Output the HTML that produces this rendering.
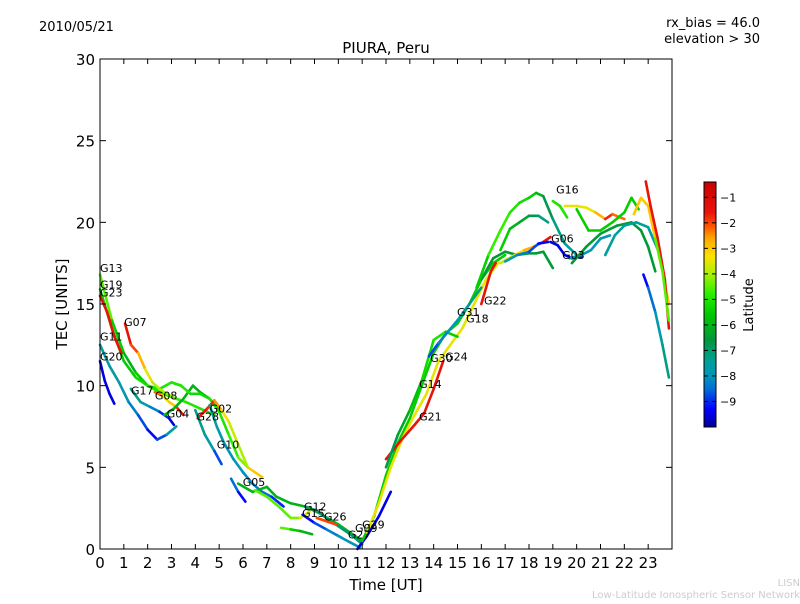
<!DOCTYPE html>
<html><head><meta charset="utf-8"><style>
body{margin:0;background:#fff;font-family:"DejaVu Sans","Liberation Sans",sans-serif}
svg text{font-family:"DejaVu Sans","Liberation Sans",sans-serif}
</style></head><body>
<svg id="c" width="800" height="600" xmlns="http://www.w3.org/2000/svg">
<defs><linearGradient id="jet" x1="0" y1="1" x2="0" y2="0"></linearGradient></defs>
<text x="39" y="31" font-size="13">2010/05/21</text>
<text x="760" y="27" font-size="13" text-anchor="end">rx_bias = 46.0</text>
<text x="760" y="43" font-size="13" text-anchor="end">elevation &gt; 30</text>
<text x="386" y="53" font-size="15" text-anchor="middle">PIURA, Peru</text>
<text x="386" y="590" font-size="15" text-anchor="middle">Time [UT]</text>
<text transform="translate(67,304) rotate(-90)" font-size="15" text-anchor="middle">TEC [UNITS]</text>
<text x="800" y="586" font-size="10" fill="#ccc" text-anchor="end">LISN</text>
<text x="800" y="598" font-size="10" fill="#ccc" text-anchor="end">Low-Latitude Ionospheric Sensor Network</text>
<g id="marks"></g>
<g id="axes"></g>
<rect x="704" y="182" width="12" height="245" fill="url(#jet)" stroke="#000" stroke-width="1"/>
<g id="cbar"></g>
<text transform="translate(753,305) rotate(-90)" font-size="13" text-anchor="middle">Latitude</text>
</svg>
<script>
const xTicks=[0,1,2,3,4,5,6,7,8,9,10,11,12,13,14,15,16,17,18,19,20,21,22,23];
const yTicks=[0,5,10,15,20,25,30];
const cbTicks=[-1,-2,-3,-4,-5,-6,-7,-8,-9];
const trackTimes=[
[0,0.5,1,1.5,2,2.5,3],[0,0.5,1,1.5,2,2.5,3,3.4],[0,0.3,0.6,0.9],
[1.05,1.3,1.6,1.9,2.2,2.5,2.8,3.2,3.6,4.2,4.8],[0,0.4,0.8,1.2,1.6,2,2.4,2.8,3.2],[0,0.2,0.4,0.6],
[1.3,1.7,2.1,2.5,2.9,3.1],[2.3,2.6,2.9,3.2,3.5],[2.7,3.1,3.5,3.9,4.2,4.6,5.0],
[3,3.4,3.8,4.2,4.6,5,5.4,5.8,6.2,6.8],[4.1,4.5,4.8,5.1,5.4,5.8,6.2],[4.6,4.9,5.2,5.6,6,6.4,6.8,7.2,7.7],
[4.0,4.4,4.8,5.1],[5.5,5.8,6.1],[5.8,6.4,7,7.4,8,8.6,9.2,10,10.5,11],
[6.5,7,7.5,8,8.4,8.8],[8.6,9,9.4,10,10.6,11],[7.6,8,8.4,8.9],
[8.5,9,9.5,10,10.5,10.9],[9.1,9.5,9.9],[10.8,11.2,11.7,12.2],
[11,11.5,12,12.5,13,13.5,14,14.5,15,15.5,16,16.5,17],[11.2,11.7,12.2,12.7,13.2,13.7,14.2,14.7,15.2,15.7,16.2,16.7],[12,12.6,13.2,13.6,14,14.4],
[12,12.5,13,13.5,14,14.5,15],[13.8,14.2,14.6,15,15.5,16],[16,16.2,16.4,16.6],
[16,16.5,17,17.5,18,18.3,18.6,19],[15.8,16.3,16.8,17.2,17.6,18,18.3,18.6,19,19.5,20],[16.8,17.2,17.6,18,18.4,18.8],
[16.8,17.4,17.8,18.2,18.6,18.9],[17,17.5,18,18.4,18.8],[18.9,19.2,19.5,19.8,20.2],
[19.7,20.2,20.6,21,21.4],[19,19.3,19.6],[19.5,20,20.4,20.8,21.2,21.5,22],
[20,20.5,21,21.5,22,22.3,22.6],[19.8,20.4,21,21.7,22.3,22.7,23,23.3],[21.2,21.6,22,22.5,23,23.5],
[22.4,22.7,23,23.3,23.6,23.87],[22.9,23.1,23.4,23.7,23.87],[22.8,23,23.3,23.6,23.87],[23.3,23.6,23.87]];
const trackTec=[
[16.8,14,12,10.8,10,9.6,9.3],[15.9,13.5,11.5,10.5,10,9.8,10.2,10],[15.5,14.5,13,12],
[13.8,12.5,12,11,10.2,9.8,9.5,9.2,9,8.6,8.2],[12.5,11.2,10.2,9,8.2,7.3,6.7,7,7.5],[11.5,10.3,9.5,8.9],
[9.8,9,8.7,8.4,8,7.6],[9.6,9.4,9,8.7,8.2],[8.2,8.6,9.2,10,9.6,9.2,8.5],
[10.2,10,9.5,9.5,9.2,8.4,7,5.6,5,4.4],[8,8.6,9.1,8.5,7.8,6.4,5],[8.8,7.5,6.5,5.5,4.7,4,3.5,3.2,2.6],
[8.5,7,6,5.2],[4.3,3.5,2.9],[4,3.5,3.8,3.2,2.8,2.6,2.2,1.5,1,0.5],
[3.6,3.2,2.6,1.9,1.9,2.3],[2.6,2.4,2,1.4,0.8,0.3],[1.3,1.2,1.1,0.9],
[2.1,1.6,1.2,0.8,0.4,0.1],[1.9,1.7,1.5],[0,0.8,2,3.5],
[0.5,2,4.5,6.5,8,10,12,13.2,13.8,15,16.5,17.5,18],[1,2.8,5,6.8,8.2,9.5,11.5,12.5,13.5,15,16.5,17.5],[5.5,6.6,7.6,8.3,9.8,11.5],
[5,7,8.5,10.3,12.8,13.3,13],[11.8,12.6,13.3,14,15,16],[15,16,17,17.5],
[16.5,17.8,18.2,18,18.1,18.1,18.2,17.2],[16,18,19.5,20.6,21.2,21.5,21.8,21.6,20.2,18.7,18],[18.3,19.6,20,20.4,20.4,20],
[17.5,18,18.3,18.5,18.8,19.1],[17.6,18,18.2,18.7,18.8],[18.8,18.6,18,17.8,17.9],
[17.8,18,18.3,19,19.2],[21.3,21,20.3],[21,21,20.9,20.6,20.2,20.5,20.2],
[20.8,19.5,19.5,20,20.6,21.5,20.8],[17.5,18.5,19.3,19.8,20,19.5,18.5,17],[18,19.2,19.8,20,19.7,18],
[20.5,21.5,21,19,17,15],[22.5,21,19,16.5,13.5],[16.8,16,14.5,12.5,10.5],[19,17,14]];
const trackLat=[
[-4,-5,-6,-6,-5,-5,-5],[-5.5,-5.5,-5.5,-5.5,-5,-5,-5,-5],[-1.5,-1.5,-1.5,-1.5],
[-1.5,-1.5,-2.5,-3,-4,-4,-4,-4.5,-5,-5,-5],[-7.5,-7.5,-7.8,-8,-8.5,-9,-9.5,-8,-7.5],[-9.5,-9.5,-9.5,-9.5],
[-7,-7.5,-8,-8.5,-9.5,-9.5],[-1.5,-3,-4,-2,-1.5],[-6,-6,-6,-6,-6,-6,-6],
[-5,-5,-5,-5.5,-5,-5,-5,-4.5,-4,-2],[-1.5,-1.5,-2,-3,-3.5,-4,-4],[-7.5,-7.5,-8,-8,-8,-8.2,-8.5,-8.5,-9.5],
[-7,-7.5,-8,-9.5],[-8,-9,-9.5],[-6,-6,-6,-6,-6,-6,-6,-6,-6,-6],
[-4.5,-4.5,-4.5,-4.5,-4,-3],[-7,-7,-7,-7,-7,-7],[-4,-5,-6,-6],
[-9.5,-9,-8.5,-8,-8,-8],[-2,-2,-2],[-9.5,-9.5,-9.5,-9.5],
[-5.5,-5.5,-5.5,-5.5,-5.5,-5.5,-5.5,-5.5,-5.5,-5.5,-5.5,-5.5,-5.5],[-3.5,-3.5,-3.5,-3.5,-3.5,-3.5,-3.5,-3.5,-3.5,-3.5,-3.5,-3.5],[-1.5,-1.5,-1.5,-1.5,-1.5,-1.5],
[-7,-6.5,-6,-5.5,-5,-5,-6],[-9,-8.5,-8,-8,-7.5,-7],[-1.5,-1.5,-1.5,-1.5],
[-6.5,-6.5,-6.5,-6.5,-6.5,-6.5,-6.5,-6.5],[-6,-5,-4.5,-5,-5,-5.5,-5.5,-6.5,-7,-7.5,-7.5],[-5,-6,-6,-6.5,-7,-7.5],
[-4,-3.5,-3,-2.5,-2,-1],[-7.5,-8,-8.5,-9,-9.5],[-9.5,-9.5,-9.5,-9.5,-9.5],
[-8,-8,-8,-8,-8],[-5,-5,-5],[-3.5,-3.5,-3.5,-3.5,-2,-1.5,-3],
[-5.5,-5.5,-5.5,-5.5,-5.5,-5.5,-5.5],[-6.5,-6.5,-6.5,-6.5,-6.5,-6.5,-6.5,-6.5],[-7.5,-7.5,-7.5,-7.5,-7.5,-7.5],
[-3,-3,-3,-3,-3,-3],[-1.5,-1.5,-1.5,-1.5,-1.5],[-9.5,-9,-8,-7.5,-7],[-4.5,-4.5,-4.5]];
const prnNames=["G13","G19","G23","G07","G11","G20","G17","G08","G04","G02","G28","G10","G05","G12","G15","G26","G27","G09","G29","G21","G14","G30","G24","G31","G18","G22","G16","G06","G03"];
const prnTimes=[0,0,0,1.01,0,0,1.3,2.3,2.8,4.6,4.05,4.9,5.99,8.56,8.48,9.4,10.4,10.7,11.0,13.39,13.39,13.85,14.48,14.98,15.36,16.11,19.14,18.93,19.39];
const prnTec=[17.2,16.2,15.7,13.9,13.0,11.8,9.7,9.4,8.3,8.6,8.1,6.4,4.1,2.6,2.2,2.0,0.9,1.3,1.5,8.1,10.1,11.7,11.8,14.5,14.1,15.2,22.0,19.0,18.0];

const CMAP=[[-10,[0,0,150]],[-9.3,[0,0,255]],[-8.5,[0,110,215]],[-8,[0,150,185]],[-7.4,[0,160,150]],[-6.6,[0,150,60]],[-5.6,[0,200,0]],[-4.8,[40,240,0]],[-4,[170,240,0]],[-3.3,[255,225,0]],[-2.6,[255,165,0]],[-2.1,[255,80,0]],[-1.6,[235,20,10]],[-0.4,[200,0,0]]];
const X0=100,X1=672,Y0=549,Y1=59;
const xs=t=>X0+t*(X1-X0)/24, ys=v=>Y0-v*(Y0-Y1)/30;
const cbY=l=>182+(-0.4-l)*(245/9.6);
function jet(l){
 if(l<=CMAP[0][0])return 'rgb('+CMAP[0][1]+')';
 for(let i=0;i<CMAP.length-1;i++){const a=CMAP[i],b=CMAP[i+1];
  if(l<=b[0]){const f=(l-a[0])/(b[0]-a[0]);return 'rgb('+a[1].map((c,k)=>Math.round(c+(b[1][k]-c)*f)).join(',')+')';}}
 return 'rgb('+CMAP[CMAP.length-1][1]+')';}
const NS="http://www.w3.org/2000/svg";
const grad=document.getElementById('jet');
CMAP.forEach(s=>{const st=document.createElementNS(NS,'stop');st.setAttribute('offset',(s[0]+10)/9.6);st.setAttribute('stop-color','rgb('+s[1]+')');grad.appendChild(st);});
const marks=document.getElementById('marks'),axes=document.getElementById('axes'),cbar=document.getElementById('cbar');
function mk(tag,attrs,parent){const e=document.createElementNS(NS,tag);for(const k in attrs)e.setAttribute(k,attrs[k]);parent.appendChild(e);return e;}
trackTimes.forEach((ts,i)=>{
 const g=mk('g',{},marks);
 
 
 for(let j=0;j<ts.length-1;j++){
  const seg=mk('line',{x1:xs(ts[j]),y1:ys(trackTec[i][j]),x2:xs(ts[j+1]),y2:ys(trackTec[i][j+1]),stroke:jet((trackLat[i][j]+trackLat[i][j+1])/2),'stroke-width':2.6,'stroke-linecap':'round'},g);
  
  
 }
});
prnNames.forEach((n,i)=>{
 const t=mk('text',{x:xs(prnTimes[i]),y:ys(prnTec[i])+4,'font-size':11},marks);
 t.textContent=n;
 
 
});
const frame=mk('rect',{x:X0,y:Y1,width:X1-X0,height:Y0-Y1,fill:'none',stroke:'#000','stroke-width':1},axes);


xTicks.forEach(v=>{
 const x=xs(v);
 mk('line',{x1:x,y1:Y0,x2:x,y2:Y0-5,stroke:'#000'},axes);
 mk('line',{x1:x,y1:Y1,x2:x,y2:Y1+5,stroke:'#000'},axes);
 const t=mk('text',{x:x,y:568,'font-size':15,'text-anchor':'middle'},axes);
 t.textContent=v;
 
 
});
yTicks.forEach(v=>{
 const y=ys(v);
 mk('line',{x1:X0,y1:y,x2:X0+6,y2:y,stroke:'#000'},axes);
 mk('line',{x1:X1,y1:y,x2:X1-6,y2:y,stroke:'#000'},axes);
 const t=mk('text',{x:95,y:y+6,'font-size':15,'text-anchor':'end'},axes);
 t.textContent=v;
 
 
});
cbTicks.forEach(v=>{
 const y=cbY(v);
 mk('line',{x1:704,y1:y,x2:708,y2:y,stroke:'#000'},cbar);
 mk('line',{x1:716,y1:y,x2:712,y2:y,stroke:'#000'},cbar);
 const t=mk('text',{x:720,y:y+4,'font-size':11},cbar);
 t.textContent='\u2212'+Math.abs(v);
 
 
});
</script>
</body></html>
